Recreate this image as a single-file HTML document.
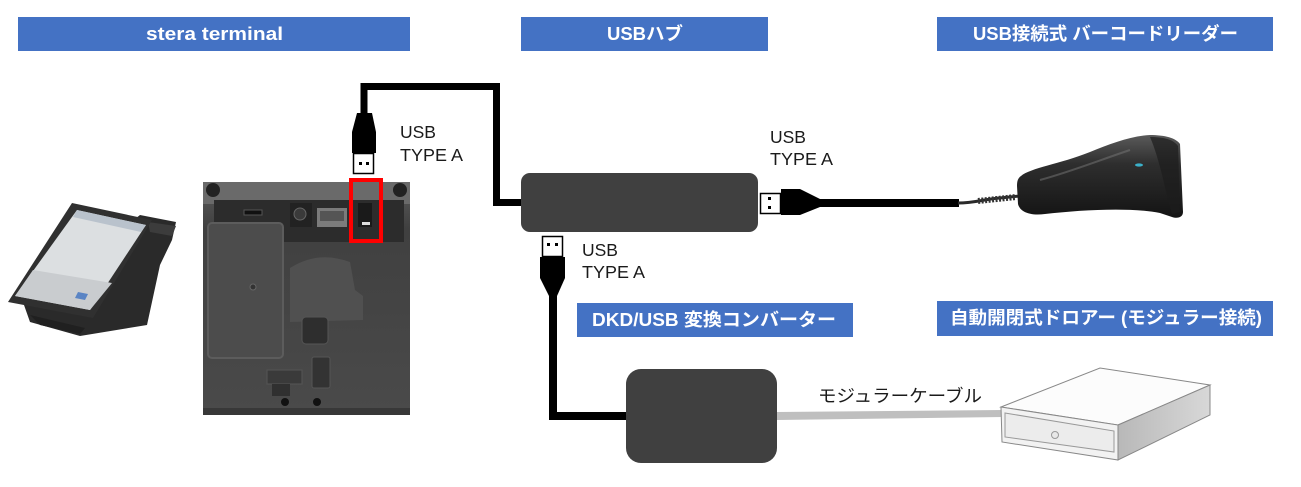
<!DOCTYPE html>
<html>
<head>
<meta charset="utf-8">
<style>
  html,body{margin:0;padding:0;background:#fff;}
  body{width:1301px;height:487px;overflow:hidden;position:relative;}
  svg{position:absolute;left:0;top:0;}
  .hd{font-family:"Liberation Sans","Noto Sans CJK JP",sans-serif;font-weight:bold;fill:#fff;font-size:18px;}
  .lb{font-family:"Liberation Sans","Noto Sans CJK JP",sans-serif;fill:#1a1a1a;font-size:17.5px;}
  .jp{font-family:"Noto Sans CJK JP","Liberation Sans",sans-serif;fill:#1a1a1a;font-size:17.5px;}
</style>
</head>
<body>
<svg width="1301" height="487" viewBox="0 0 1301 487" xmlns="http://www.w3.org/2000/svg">
  <defs>
    <linearGradient id="scan" x1="0" y1="0" x2="0" y2="1">
      <stop offset="0" stop-color="#5a5a5a"/>
      <stop offset="0.35" stop-color="#2e2e2e"/>
      <stop offset="1" stop-color="#141414"/>
    </linearGradient>
    <linearGradient id="side" x1="0" y1="0" x2="1" y2="0">
      <stop offset="0" stop-color="#b8b8b8"/>
      <stop offset="1" stop-color="#d8d8d8"/>
    </linearGradient>
    <linearGradient id="photo" x1="0" y1="0" x2="0" y2="1">
      <stop offset="0" stop-color="#5c5c5c"/>
      <stop offset="0.2" stop-color="#404040"/>
      <stop offset="1" stop-color="#4a4a4a"/>
    </linearGradient>
  </defs>

  <!-- header labels -->
  <rect x="18" y="17" width="392" height="34" fill="#4472C4"/>
  <text x="146" y="40" class="hd" textLength="137" lengthAdjust="spacingAndGlyphs">stera terminal</text>
  <rect x="521" y="17" width="247" height="34" fill="#4472C4"/>
  <text x="607" y="40" class="hd" textLength="76" lengthAdjust="spacingAndGlyphs">USBハブ</text>
  <rect x="937" y="17" width="336" height="34" fill="#4472C4"/>
  <text x="973" y="40" class="hd" textLength="265" lengthAdjust="spacingAndGlyphs">USB接続式 バーコードリーダー</text>
  <rect x="577" y="303" width="276" height="34" fill="#4472C4"/>
  <text x="592" y="326" class="hd" textLength="244" lengthAdjust="spacingAndGlyphs">DKD/USB 変換コンバーター</text>
  <rect x="937" y="301" width="336" height="35" fill="#4472C4"/>
  <text x="950" y="324" class="hd" textLength="312" lengthAdjust="spacingAndGlyphs">自動開閉式ドロアー (モジュラー接続)</text>

  <!-- tablet terminal -->
  <polygon points="140,215 176,222 172,240 160,265 147,325 80,336 30,322 24,305" fill="#2a2a2a"/>
  <polygon points="148,222 176,226 172,236 150,232" fill="#3c3c3c"/>
  <polygon points="72,203 152,220 93,318 8,302" fill="#303030"/>
  <polygon points="77,210 146,225 90,310 15,296" fill="#dcdfe1"/>
  <polygon points="77,210 146,225 141,232 73,217" fill="#b9c2cc"/>
  <polygon points="33,270 112,283 90,310 15,296" fill="#c9cccf"/>
  <polygon points="78,292 88,294 85,300 75,298" fill="#5a84c4"/>
  <polygon points="30,315 85,328 80,334 40,325" fill="#202020"/>

  <!-- terminal bottom photo -->
  <rect x="203" y="182" width="207" height="233" fill="url(#photo)"/>
  <rect x="203" y="182" width="207" height="22" fill="#6a6a6a"/>
  <circle cx="213" cy="190" r="7" fill="#222"/>
  <circle cx="400" cy="190" r="7" fill="#222"/>
  <rect x="214" y="200" width="190" height="42" fill="#2c2c2c"/>
  <rect x="244" y="210" width="18" height="5" fill="#111" stroke="#555" stroke-width="1"/>
  <rect x="290" y="203" width="22" height="24" fill="#222"/>
  <circle cx="300" cy="214" r="6" fill="#3a3a3a" stroke="#666" stroke-width="1"/>
  <rect x="317" y="208" width="30" height="19" fill="#7b7b7b"/>
  <rect x="320" y="211" width="24" height="10" fill="#555"/>
  <rect x="358" y="203" width="14" height="24" fill="#1a1a1a"/>
  <rect x="362" y="222" width="8" height="3" fill="#ddd"/>
  <rect x="208" y="223" width="75" height="135" rx="4" fill="#4c4c4c" stroke="#5c5c5c" stroke-width="2"/>
  <circle cx="253" cy="287" r="3" fill="#333" stroke="#666" stroke-width="1"/>
  <path d="M290,268 Q318,250 350,262 L355,290 L363,296 L363,320 L290,322 Z" fill="#505050"/>
  <rect x="302" y="317" width="26" height="27" rx="4" fill="#2e2e2e" stroke="#555" stroke-width="1"/>
  <rect x="312" y="357" width="18" height="31" rx="2" fill="#333" stroke="#555" stroke-width="1"/>
  <rect x="267" y="370" width="35" height="14" fill="#3a3a3a" stroke="#555" stroke-width="1"/>
  <rect x="272" y="384" width="18" height="12" fill="#303030"/>
  <circle cx="285" cy="402" r="4" fill="#111"/>
  <circle cx="317" cy="402" r="4" fill="#111"/>
  <rect x="203" y="408" width="207" height="7" fill="#383838"/>

  <!-- red highlight -->
  <rect x="351" y="180" width="30" height="61" fill="none" stroke="#ff0000" stroke-width="4"/>

  <!-- cable terminal -> hub -->
  <path d="M364,113 V86.5 H496.5 V202.5 H522" fill="none" stroke="#000" stroke-width="7"/>
  <!-- upper plug (pointing down) -->
  <polygon points="357,113 372,113 376,132 376,153 352,153 352,132" fill="#000"/>
  <rect x="353.5" y="153.5" width="20" height="20" fill="#fff" stroke="#000" stroke-width="1.5"/>
  <rect x="359" y="162" width="3" height="3" fill="#000"/>
  <rect x="366" y="162" width="3" height="3" fill="#000"/>

  <!-- hub -->
  <rect x="521" y="173" width="237" height="59" rx="9" fill="#404040"/>

  <!-- right plug -->
  <rect x="760.5" y="193.5" width="20" height="20" fill="#fff" stroke="#000" stroke-width="1.5"/>
  <rect x="768" y="197" width="3" height="3" fill="#000"/>
  <rect x="768" y="206" width="3" height="3" fill="#000"/>
  <polygon points="781,189 800,189 820,199 820,207 800,215 781,215" fill="#000"/>
  <rect x="819" y="199" width="140" height="8" fill="#000"/>
  <!-- coiled cable -->
  <path d="M958,203 C975,203 985,199 1000,198 L1020,196" fill="none" stroke="#2a2a2a" stroke-width="3"/>
  <path d="M978,201 L1016,197" fill="none" stroke="#333" stroke-width="6" stroke-dasharray="2 1.5"/>

  <!-- scanner -->
  <path d="M1021,176 C1030,168 1060,164 1090,152 C1110,144 1130,136 1150,135 C1165,135 1176,138 1180,144 L1183,212 C1183,217 1178,219 1172,217 L1160,213 C1130,207 1080,210 1045,214 C1030,216 1020,212 1018,204 L1017,186 C1017,181 1018,178 1021,176 Z" fill="url(#scan)"/>
  <path d="M1150,137 C1165,137 1174,140 1178,146 L1180,212 L1172,214 C1165,190 1160,160 1150,137 Z" fill="#1c1c1c" opacity="0.7"/>
  <ellipse cx="1139" cy="165" rx="4" ry="1.6" fill="#3bb0c9"/>
  <path d="M1040,180 C1070,172 1100,160 1130,150" fill="none" stroke="#777" stroke-width="2" opacity="0.5"/>

  <!-- lower plug (pointing up) -->
  <rect x="542.5" y="236.5" width="20" height="20" fill="#fff" stroke="#000" stroke-width="1.5"/>
  <rect x="547" y="243" width="3" height="3" fill="#000"/>
  <rect x="555" y="243" width="3" height="3" fill="#000"/>
  <polygon points="540,257 565,257 565,278 557,296 549,296 540,278" fill="#000"/>
  <path d="M553,295 V416 H627" fill="none" stroke="#000" stroke-width="8"/>

  <!-- converter -->
  <rect x="626" y="369" width="151" height="94" rx="15" fill="#404040"/>

  <!-- modular cable -->
  <polygon points="777,412 1003,410 1003,417 777,420" fill="#bfbfbf"/>
  <text x="818" y="402" class="jp" textLength="164" lengthAdjust="spacingAndGlyphs">モジュラーケーブル</text>

  <!-- drawer -->
  <polygon points="1001,407 1100,368 1210,385 1118,425" fill="#fcfcfc" stroke="#888" stroke-width="1"/>
  <polygon points="1118,425 1210,385 1210,415 1118,460" fill="url(#side)" stroke="#888" stroke-width="1"/>
  <polygon points="1001,407 1118,425 1118,460 1002,442" fill="#f2f2f2" stroke="#888" stroke-width="1"/>
  <polygon points="1005,413 1114,431 1114,452 1005,437" fill="#ececec" stroke="#999" stroke-width="1"/>
  <circle cx="1055" cy="435" r="3.5" fill="#e8e8e8" stroke="#999" stroke-width="1"/>

  <!-- USB TYPE A labels -->
  <text x="400" y="138" class="lb">USB</text>
  <text x="400" y="161" class="lb" textLength="63" lengthAdjust="spacingAndGlyphs">TYPE A</text>
  <text x="770" y="143" class="lb">USB</text>
  <text x="770" y="165" class="lb" textLength="63" lengthAdjust="spacingAndGlyphs">TYPE A</text>
  <text x="582" y="256" class="lb">USB</text>
  <text x="582" y="278" class="lb" textLength="63" lengthAdjust="spacingAndGlyphs">TYPE A</text>
</svg>
</body>
</html>
